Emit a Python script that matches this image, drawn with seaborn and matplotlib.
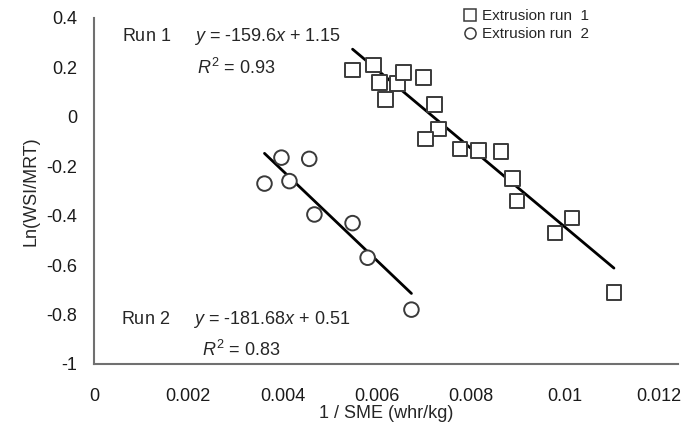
import matplotlib.pyplot as plt
import numpy as np
import pandas as pd
import seaborn as sns

# run 1 (squares)
run1_x = [0.00549, 0.00594, 0.00606, 0.00645, 0.00657, 0.00619, 0.00700, 0.00723, 0.00732,
          0.00704, 0.00777, 0.00817, 0.00864, 0.00889, 0.00898, 0.00979, 0.01015, 0.01104]
run1_y = [0.19, 0.21, 0.14, 0.135, 0.18, 0.07, 0.16, 0.05, -0.05,
          -0.09, -0.13, -0.135, -0.14, -0.25, -0.34, -0.47, -0.41, -0.71]
# run 2 (circles)
run2_x = [0.00362, 0.00398, 0.00415, 0.00457, 0.00468, 0.00549, 0.00581, 0.00674]
run2_y = [-0.27, -0.165, -0.26, -0.17, -0.395, -0.43, -0.57, -0.78]

run_names = ['Extrusion run 1', 'Extrusion run 2']
slopes = [-159.6, -181.68]
intercepts = [1.15, 0.51]
r2_values = [0.93, 0.83]

x_ticks = [0, 0.002, 0.004, 0.006, 0.008, 0.01, 0.012]
y_ticks = [-1, -0.8, -0.6, -0.4, -0.2, 0, 0.2, 0.4]

sns.set_style('white')
plt.rcParams['font.family'] = ['Liberation Sans', 'DejaVu Sans']
plt.rcParams['mathtext.fontset'] = 'custom'
plt.rcParams['mathtext.rm'] = 'Liberation Sans'
plt.rcParams['mathtext.it'] = 'Liberation Sans:italic'

df = pd.DataFrame({
    'x': run1_x + run2_x,
    'y': run1_y + run2_y,
    'run': [run_names[0]] * len(run1_x) + [run_names[1]] * len(run2_x),
})

fig = plt.figure(figsize=(6.96, 4.34), dpi=100)
ax = fig.add_axes([94 / 696, 1 - 364 / 434, (678 - 94) / 696, (364 - 18) / 434])

sns.scatterplot(data=df, x='x', y='y', style='run', markers={run_names[0]: 's', run_names[1]: 'o'},
                s=110, facecolor='white', edgecolor='#3a3a3a', linewidth=1.4, ax=ax, legend=False, zorder=3)

# trendlines over each run's x range
for xs, m, b in zip([run1_x, run2_x], slopes, intercepts):
    lx = np.array([min(xs), max(xs)])
    sns.lineplot(x=lx, y=m * lx + b, color='black', linewidth=2, ax=ax, zorder=2)

ax.set_xlim(0, 0.0124)
ax.set_ylim(-1, 0.4)
ax.set_xticks(x_ticks)
ax.set_xticklabels([f'{t:g}' for t in x_ticks])
ax.set_yticks(y_ticks)
ax.set_yticklabels([f'{t:g}' for t in y_ticks])
ax.tick_params(axis='x', length=0, labelsize=13, colors='#1a1a1a', pad=17)
ax.tick_params(axis='y', length=0, labelsize=13, colors='#1a1a1a', pad=12)
for s in ['top', 'right']:
    ax.spines[s].set_visible(False)
for s in ['left', 'bottom']:
    ax.spines[s].set_color('#707070')
    ax.spines[s].set_linewidth(1.5)

ax.set_xlabel('1 / SME (whr/kg)', fontsize=13, labelpad=0)
ax.set_ylabel('Ln(WSI/MRT)', fontsize=13, labelpad=5)

ax.text(0.00059, 0.325, f'Run 1     $y$ = {slopes[0]}$x$ + {intercepts[0]}', fontsize=13, va='center')
ax.text(0.00219, 0.197, f'$R^{{2}}$ = {r2_values[0]}', fontsize=13, va='center')
ax.text(0.00057, -0.82, f'Run 2     $y$ = {slopes[1]}$x$ + {intercepts[1]}', fontsize=13, va='center')
ax.text(0.00230, -0.945, f'$R^{{2}}$ = {r2_values[1]}', fontsize=13, va='center')

handles = [plt.Line2D([], [], marker=mk, linestyle='none', markersize=8, markerfacecolor='white',
                      markeredgecolor='#3a3a3a', markeredgewidth=1.1) for mk in ['s', 'o']]
ax.legend(handles, ['Extrusion run  1', 'Extrusion run  2'], loc='upper left',
          bbox_to_anchor=((450 - 94) / 584, 1.065), frameon=False,
          fontsize=11, handlelength=0.8, handletextpad=0.4, labelspacing=0.25)

fig.savefig('out.png', dpi=100)
